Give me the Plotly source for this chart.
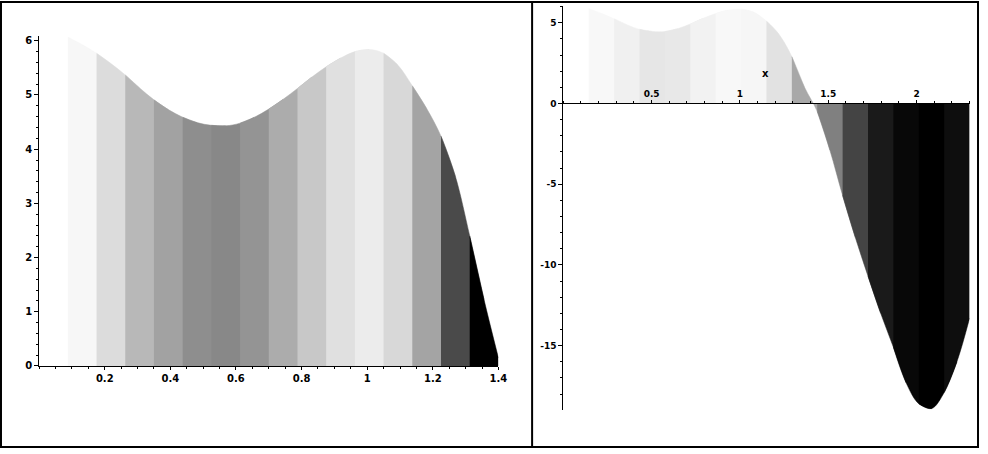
import plotly.graph_objects as go

# ---- left panel: curve sampled at strip edges and strip midpoints (0..1.4) ----
left_x = [0.0875, 0.13125, 0.175, 0.21875, 0.2625, 0.30625, 0.35, 0.39375,
          0.4375, 0.48125, 0.525, 0.56875, 0.6125, 0.65625, 0.7, 0.74375,
          0.7875, 0.83125, 0.875, 0.91875, 0.9625, 1.00625, 1.05, 1.09375,
          1.1375, 1.18125, 1.225, 1.26875, 1.3125, 1.35625, 1.4]
left_y = [6.07, 5.93, 5.77, 5.58, 5.37, 5.13, 4.91, 4.73,
          4.59, 4.49, 4.44, 4.43, 4.48, 4.59, 4.74, 4.92,
          5.12, 5.33, 5.52, 5.68, 5.80, 5.84, 5.77, 5.55,
          5.17, 4.75, 4.24, 3.50, 2.40, 1.22, 0.15]
left_shades = ["#f7f7f7", "#dcdcdc", "#b8b8b8", "#a2a2a2", "#8e8e8e",
               "#888888", "#949494", "#acacac", "#c8c8c8", "#e0e0e0",
               "#ececec", "#d8d8d8", "#a4a4a4", "#4a4a4a", "#000000"]
left_xticks = [0.2, 0.4, 0.6, 0.8, 1, 1.2, 1.4]
left_xlabels = ["0.2", "0.4", "0.6", "0.8", "1", "1.2", "1.4"]
left_yticks = [0, 1, 2, 3, 4, 5, 6]

# ---- right panel: same curve over 0..2.3 ----
right_x = [0.14375, 0.215625, 0.2875, 0.359375, 0.43125, 0.503125, 0.575,
           0.646875, 0.71875, 0.790625, 0.8625, 0.934375, 1.00625, 1.078125,
           1.15, 1.221875, 1.29375, 1.365625, 1.4375, 1.509375, 1.58125,
           1.653125, 1.725, 1.796875, 1.86875, 1.940625, 2.0125, 2.084375,
           2.15625, 2.228125, 2.3]
right_y = [5.88, 5.58, 5.25, 4.88, 4.59, 4.46, 4.45,
           4.63, 4.92, 5.27, 5.57, 5.78, 5.84, 5.66,
           5.10, 4.27, 2.90, 1.00, -0.50, -2.90, -5.70,
           -8.30, -10.70, -13.00, -15.10, -17.30, -18.60, -18.90,
           -17.90, -16.00, -13.30]
right_shades = ["#f8f8f8", "#f0f0f0", "#e6e6e6", "#e8e8e8", "#f2f2f2",
                "#f8f8f8", "#f6f6f6", "#e2e2e2", "#a8a8a8", "#808080",
                "#444444", "#1a1a1a", "#080808", "#000000", "#0e0e0e"]
right_xticks = [0.5, 1, 1.5, 2]
right_xlabels = ["0.5", "1", "1.5", "2"]
right_yticks = [5, 0, -5, -10, -15]
right_ylabels = ["5", "0", "-5", "-10", "-15"]

W, H = 988, 454


def px_x(p):
    return p / W


def px_y(p):
    return 1 - p / H


fig = go.Figure()


def add_strips(xs, ys, shades, xa, ya):
    # each strip spans two half-steps of the sampled curve; it reaches one
    # sample into the next strip so no hairline seam shows between them
    n = len(shades)
    for i, col in enumerate(shades):
        stop = 2 * i + 3 if i == n - 1 else 2 * i + 4
        sx = xs[2 * i:stop]
        sy = ys[2 * i:stop]
        fig.add_trace(go.Scatter(
            x=sx, y=sy, mode="lines", fill="tozeroy", fillcolor=col,
            line=dict(color=col, width=0.5, shape="spline"),
            xaxis=xa, yaxis=ya, hoverinfo="skip", showlegend=False))


add_strips(left_x, left_y, left_shades, "x", "y")
add_strips(right_x, right_y, right_shades, "x2", "y2")

tick_font = dict(family="DejaVu Sans", size=10, color="black", weight="bold")
tick_font_r = dict(family="DejaVu Sans", size=9, color="black", weight="bold")
common = dict(showgrid=False, zeroline=False, showline=True, linecolor="black",
              linewidth=1, ticks="outside", tickcolor="black", tickwidth=1)

fig.update_layout(
    width=W, height=H, autosize=False,
    margin=dict(l=0, r=0, t=0, b=0),
    paper_bgcolor="white", plot_bgcolor="white",
    showlegend=False,
    xaxis=dict(domain=[px_x(39.5), px_x(503)], range=[0, 1.4], anchor="y",
               tickvals=left_xticks, ticktext=left_xlabels, ticklen=3,
               tickfont=tick_font,
               minor=dict(dtick=0.05, ticks="outside", ticklen=2, tickcolor="black"),
               **common),
    yaxis=dict(domain=[px_y(370.7), px_y(36)], range=[0, 6.08], anchor="x",
               tickvals=left_yticks, ticklen=4, tickfont=tick_font,
               minor=dict(dtick=0.2, ticks="outside", ticklen=2, tickcolor="black"),
               **common),
    xaxis2=dict(domain=[px_x(568.5), px_x(978.5)], range=[0, 2.3],
                anchor="free", position=px_y(104), side="top",
                tickvals=right_xticks, ticktext=right_xlabels, ticklen=3,
                tickfont=tick_font_r,
                minor=dict(dtick=0.1, ticks="outside", ticklen=2, tickcolor="black"),
                **common),
    yaxis2=dict(domain=[px_y(415), px_y(5)], range=[-18.96, 6.04], anchor="x2",
                tickvals=right_yticks, ticktext=right_ylabels, ticklen=4,
                tickfont=tick_font_r,
                minor=dict(dtick=1, ticks="outside", ticklen=2, tickcolor="black"),
                **common),
    annotations=[dict(x=1.144, y=1.83, xref="x2", yref="y2", text="x",
                      showarrow=False,
                      font=dict(family="DejaVu Sans", size=10, color="black",
                                weight="bold"))],
    shapes=[
        dict(type="rect", xref="paper", yref="paper",
             x0=px_x(1), x1=px_x(987), y0=px_y(453), y1=px_y(1),
             line=dict(color="black", width=2)),
        dict(type="line", xref="paper", yref="paper",
             x0=px_x(537), x1=px_x(537), y0=px_y(453), y1=px_y(1),
             line=dict(color="black", width=2)),
    ],
)

# drop the browser's default page margin so the figure sits at the page corner
fig.write_html("out.html",
               config={"responsive": False, "displayModeBar": False},
               post_script="document.documentElement.style.margin='0';"
                           "document.body.style.margin='0';"
                           "document.body.style.padding='0';"
                           "document.documentElement.style.overflow='hidden';")
